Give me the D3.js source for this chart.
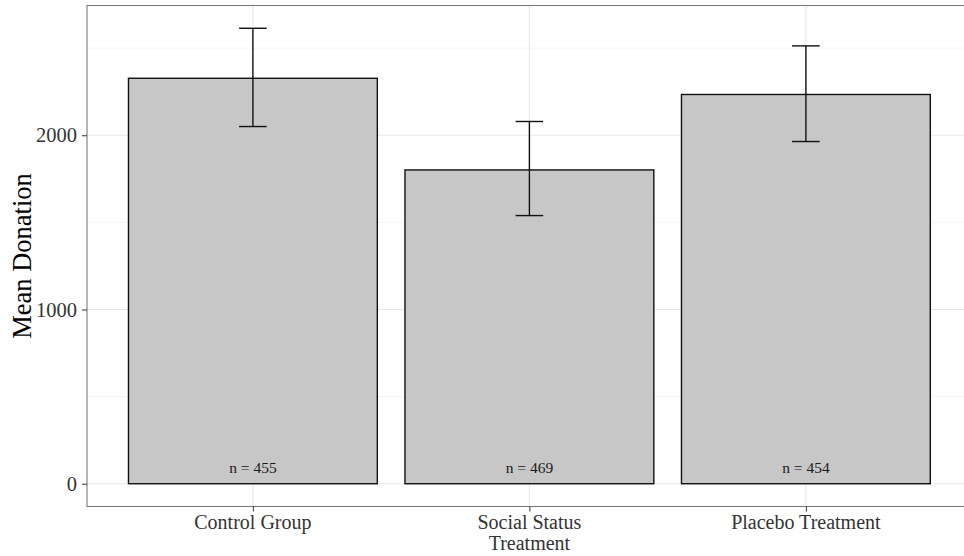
<!DOCTYPE html>
<html>
<head>
<meta charset="utf-8">
<script src="https://cdn.jsdelivr.net/npm/d3@7"></script>
<style>
  body { margin: 0; background: #fff; }
  svg { display: block; font-family: "Liberation Serif", serif; }
</style>
</head>
<body>
<svg id="chart" width="964" height="556"></svg>
<script>
// values
const groups = ["Control Group", "Social Status\nTreatment", "Placebo Treatment"];
const means = [2327, 1801, 2234];
const ciLow = [2050, 1539, 1964];
const ciHigh = [2614, 2079, 2513];
const counts = [455, 469, 454];
const yTicks = [0, 1000, 2000];
const yMinor = [500, 1500, 2500];

const width = 964, height = 556;
const margin = { top: 5.5, left: 87, bottom: 49.5 };
const unitPx = 276.5; // one category step, panel runs past the right edge like the original

const svg = d3.select("#chart");

const x = d3.scaleLinear()
  .domain([0.4, groups.length + 0.6])
  .range([margin.left, margin.left + (groups.length + 0.2) * unitPx]);

const yMax = d3.max(ciHigh);
const pad = yMax * 0.05;
const y = d3.scaleLinear()
  .domain([-pad, yMax + pad])
  .range([height - margin.bottom, margin.top]);

const x0 = x.range()[0], x1 = x.range()[1];
const yBottom = y.range()[0], yTop = y.range()[1];

// grid
svg.append("g")
  .selectAll("line")
  .data(yMinor)
  .join("line")
  .attr("x1", x0).attr("x2", x1)
  .attr("y1", (d) => y(d)).attr("y2", (d) => y(d))
  .attr("stroke", "#f3f3f3").attr("stroke-width", 0.8);

svg.append("g")
  .selectAll("line")
  .data(yTicks)
  .join("line")
  .attr("x1", x0).attr("x2", x1)
  .attr("y1", (d) => y(d)).attr("y2", (d) => y(d))
  .attr("stroke", "#e8e8e8").attr("stroke-width", 1.1);

svg.append("g")
  .selectAll("line")
  .data(groups)
  .join("line")
  .attr("x1", (d, i) => x(i + 1)).attr("x2", (d, i) => x(i + 1))
  .attr("y1", yTop).attr("y2", yBottom)
  .attr("stroke", "#e8e8e8").attr("stroke-width", 1.1);

// bars
svg.append("g")
  .selectAll("rect")
  .data(means)
  .join("rect")
  .attr("x", (d, i) => x(i + 1 - 0.45))
  .attr("width", x(1.45) - x(0.55))
  .attr("y", (d) => y(d))
  .attr("height", (d) => y(0) - y(d))
  .attr("fill", "#c7c7c7")
  .attr("stroke", "#111")
  .attr("stroke-width", 1.4);

// error bars
const err = svg.append("g").attr("stroke", "#111").attr("stroke-width", 1.4);
groups.forEach((g, i) => {
  const cx = x(i + 1);
  const hw = (x(1.05) - x(0.95)) / 2;
  err.append("line").attr("x1", cx).attr("x2", cx).attr("y1", y(ciLow[i])).attr("y2", y(ciHigh[i]));
  err.append("line").attr("x1", cx - hw).attr("x2", cx + hw).attr("y1", y(ciLow[i])).attr("y2", y(ciLow[i]));
  err.append("line").attr("x1", cx - hw).attr("x2", cx + hw).attr("y1", y(ciHigh[i])).attr("y2", y(ciHigh[i]));
});

// n labels
svg.append("g")
  .selectAll("text")
  .data(counts)
  .join("text")
  .attr("x", (d, i) => x(i + 1))
  .attr("y", y(0) - 11)
  .attr("text-anchor", "middle")
  .attr("font-size", 15.5)
  .attr("fill", "#1a1a1a")
  .text((d) => "n = " + d);

// panel border
svg.append("rect")
  .attr("x", x0).attr("y", yTop)
  .attr("width", x1 - x0).attr("height", yBottom - yTop)
  .attr("fill", "none")
  .attr("stroke", "#7a7a7a")
  .attr("stroke-width", 1.1);

// y axis
const yAxis = svg.append("g")
  .attr("transform", `translate(${x0},0)`)
  .call(d3.axisLeft(y).tickValues(yTicks).tickSize(5).tickPadding(5).tickFormat(d3.format("d")));
yAxis.select(".domain").remove();
yAxis.selectAll(".tick line").attr("stroke", "#333");
yAxis.selectAll(".tick text")
  .attr("font-family", "Liberation Serif, serif")
  .attr("font-size", 20.5)
  .attr("fill", "#333");

// x axis
const xAxis = svg.append("g")
  .attr("transform", `translate(0,${yBottom})`)
  .call(d3.axisBottom(x).tickValues(groups.map((d, i) => i + 1)).tickSize(5).tickFormat(""));
xAxis.select(".domain").remove();
xAxis.selectAll(".tick line").attr("stroke", "#333");

// category labels, one text per line
groups.forEach((g, i) => {
  g.split("\n").forEach((line, k) => {
    svg.append("text")
      .attr("x", x(i + 1))
      .attr("y", yBottom + 22 + k * 21.5)
      .attr("text-anchor", "middle")
      .attr("font-size", 20)
      .attr("fill", "#333")
      .text(line);
  });
});

// y title
svg.append("text")
  .attr("transform", `translate(31,${(yTop + yBottom) / 2}) rotate(-90)`)
  .attr("text-anchor", "middle")
  .attr("font-size", 26.5)
  .attr("fill", "#000")
  .text("Mean Donation");
</script>
</body>
</html>
